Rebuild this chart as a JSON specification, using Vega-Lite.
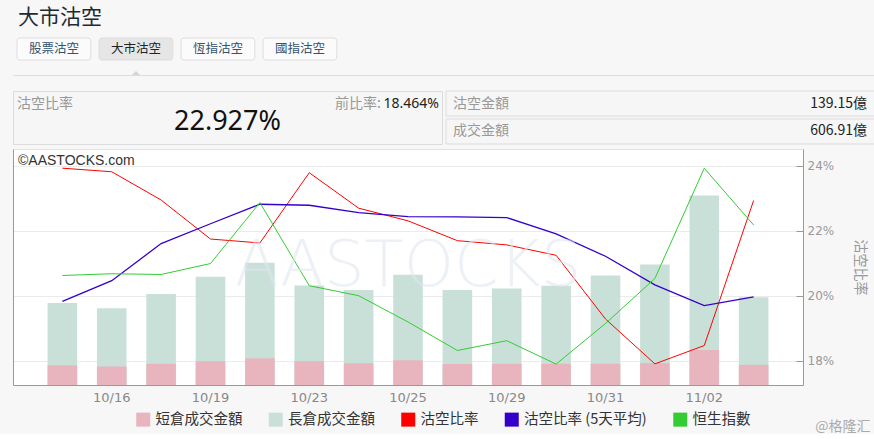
{
  "$schema": "https://vega.github.io/schema/vega-lite/v6.json",
  "background": "#f7f7f7",
  "padding": {"left": 12, "top": 6, "right": 0, "bottom": 0},
  "title": {"text": "@格隆汇", "orient": "bottom", "anchor": "end", "fontSize": 14, "color": "#aaaaaa", "fontWeight": "normal", "offset": -8, "dx": -7},
  "datasets": {
    "buttons": [
      {"按鈕": "股票沽空", "狀態": "normal"},
      {"按鈕": "大市沽空", "狀態": "selected"},
      {"按鈕": "恆指沽空", "狀態": "normal"},
      {"按鈕": "國指沽空", "狀態": "normal"}
    ],
    "ratioBox": [
      {"項目": "沽空比率", "數值": "22.927%", "前比率": "18.464%"}
    ],
    "amountBox": [
      {"項目": "沽空金額", "數值": "139.15億"},
      {"項目": "成交金額", "數值": "606.91億"}
    ],
    "days": [
      {"date": "10/15", "total": 567, "short": 136, "ratio": 23.92, "avg5": 19.82, "hsi": 25445},
      {"date": "10/16", "total": 530, "short": 128, "ratio": 23.81, "avg5": 20.46, "hsi": 25462},
      {"date": "10/18", "total": 629, "short": 146, "ratio": 22.94, "avg5": 21.60, "hsi": 25455},
      {"date": "10/19", "total": 747, "short": 164, "ratio": 21.74, "avg5": 22.21, "hsi": 25561},
      {"date": "10/22", "total": 844, "short": 184, "ratio": 21.62, "avg5": 22.81, "hsi": 26153},
      {"date": "10/23", "total": 687, "short": 165, "ratio": 23.78, "avg5": 22.78, "hsi": 25346},
      {"date": "10/24", "total": 657, "short": 150, "ratio": 22.69, "avg5": 22.55, "hsi": 25249},
      {"date": "10/25", "total": 761, "short": 171, "ratio": 22.30, "avg5": 22.43, "hsi": 24994},
      {"date": "10/26", "total": 657, "short": 145, "ratio": 21.69, "avg5": 22.42, "hsi": 24717},
      {"date": "10/29", "total": 666, "short": 146, "ratio": 21.56, "avg5": 22.40, "hsi": 24812},
      {"date": "10/30", "total": 685, "short": 147, "ratio": 21.24, "avg5": 21.90, "hsi": 24585},
      {"date": "10/31", "total": 756, "short": 147, "ratio": 19.28, "avg5": 21.21, "hsi": 24979},
      {"date": "11/01", "total": 832, "short": 151, "ratio": 17.90, "avg5": 20.33, "hsi": 25416},
      {"date": "11/02", "total": 1309, "short": 242, "ratio": 18.464, "avg5": 19.69, "hsi": 26486},
      {"date": "11/05", "total": 606.91, "short": 139.15, "ratio": 22.927, "avg5": 19.96, "hsi": 25935}
    ],
    "mark": [{"watermark": "AASTOCKS"}]
  },
  "spacing": 3,
  "resolve": {"scale": {"color": "independent", "fill": "independent"}, "legend": {"color": "independent", "fill": "independent"}},
  "vconcat": [
    {
      "spacing": 15,
      "resolve": {"scale": {"color": "independent", "fill": "independent"}},
      "vconcat": [
        {
          "width": 862,
          "height": 22,
          "title": {"text": "大市沽空", "anchor": "start", "fontSize": 21, "color": "#1f2a33", "fontWeight": "normal", "offset": 10, "dx": 5},
          "data": {"name": "buttons"},
          "layer": [
            {
              "mark": {"type": "bar", "cornerRadius": 3, "stroke": "#dddddd", "strokeWidth": 1},
              "encoding": {
                "x": {"field": "按鈕", "type": "nominal", "sort": null,
                      "scale": {"domain": ["股票沽空", "大市沽空", "恆指沽空", "國指沽空", " 1", " 2", " 3", " 4", " 5", " 6"], "paddingInner": 0.1, "paddingOuter": 0.305, "align": 0.08},
                      "axis": {"orient": "bottom", "offset": 15, "labels": false, "ticks": false, "title": null, "domainColor": "#dddddd", "grid": false}},
                "fill": {"field": "狀態", "type": "nominal", "scale": {"domain": ["selected", "normal"], "range": ["#e6e6e6", "#fbfbfb"]}, "legend": null}
              }
            },
            {
              "mark": {"type": "text", "fontSize": 12.5},
              "encoding": {
                "x": {"field": "按鈕", "type": "nominal", "sort": null},
                "text": {"field": "按鈕"},
                "color": {"field": "狀態", "type": "nominal", "scale": {"domain": ["selected", "normal"], "range": ["#222222", "#35536d"]}, "legend": null}
              }
            },
            {
              "transform": [{"filter": "datum['狀態'] === 'selected'"}],
              "mark": {"type": "point", "shape": "M-1,0L0,-1L1,0Z", "size": 64, "filled": true, "fill": "#d4d4d4", "strokeWidth": 0, "opacity": 1, "yOffset": 26},
              "encoding": {
                "x": {"field": "按鈕", "type": "nominal", "sort": null}
              }
            }
          ]
        },
        {
          "spacing": 2,
          "hconcat": [
            {
              "width": 429,
              "height": 53,
              "view": {"fill": "#f6f6f6", "stroke": "#dcdcdc"},
              "data": {"name": "ratioBox"},
              "layer": [
                {
                  "mark": {"type": "text", "align": "left", "dx": 4, "dy": -13.5, "fontSize": 14, "color": "#999999"},
                  "encoding": {
                    "x": {"datum": "left", "type": "nominal", "scale": {"type": "point", "domain": ["left", "right"], "padding": 0}, "axis": null},
                    "text": {"field": "項目"}
                  }
                },
                {
                  "mark": {"type": "text", "align": "right", "dx": -61, "dy": -13.5, "fontSize": 14, "color": "#999999", "text": "前比率:"},
                  "encoding": {
                    "x": {"datum": "right", "type": "nominal"}
                  }
                },
                {
                  "mark": {"type": "text", "align": "right", "dx": -3, "dy": -13.5, "fontSize": 14, "color": "#222222", "font": "Noto Sans"},
                  "encoding": {
                    "x": {"datum": "right", "type": "nominal"},
                    "text": {"field": "前比率"}
                  }
                },
                {
                  "mark": {"type": "text", "align": "center", "dy": 4.5, "fontSize": 27, "color": "#111111", "font": "Noto Sans"},
                  "encoding": {
                    "text": {"field": "數值"}
                  }
                }
              ]
            },
            {
              "width": 431,
              "height": 53,
              "data": {"name": "amountBox"},
              "layer": [
                {
                  "mark": {"type": "bar", "fill": "#f6f6f6", "stroke": "#dcdcdc", "strokeWidth": 1},
                  "encoding": {
                    "y": {"field": "項目", "type": "nominal", "sort": null, "scale": {"paddingInner": 0.107, "paddingOuter": 0}, "axis": null}
                  }
                },
                {
                  "mark": {"type": "text", "align": "left", "dx": 7, "fontSize": 14, "color": "#999999"},
                  "encoding": {
                    "y": {"field": "項目", "type": "nominal", "sort": null},
                    "x": {"datum": "left", "type": "nominal", "scale": {"type": "point", "domain": ["left", "right"], "padding": 0}, "axis": null},
                    "text": {"field": "項目"}
                  }
                },
                {
                  "mark": {"type": "text", "align": "right", "dx": -10, "fontSize": 14, "color": "#222222"},
                  "encoding": {
                    "y": {"field": "項目", "type": "nominal", "sort": null},
                    "x": {"datum": "right", "type": "nominal"},
                    "text": {"field": "數值"}
                  }
                }
              ]
            }
          ]
        }
      ]
    },
    {
      "width": 790,
      "height": 236,
      "view": {"fill": "#ffffff", "stroke": "#e2e2e2"},
      "title": {"text": "©AASTOCKS.com", "orient": "top", "anchor": "start", "frame": "group", "offset": -19, "dx": 5, "fontSize": 14, "color": "#333333", "fontWeight": "normal", "font": "Liberation Sans"},
      "data": {"name": "days"},
      "layer": [
        {
          "mark": {"type": "bar"},
          "encoding": {
            "x": {"field": "date", "type": "ordinal", "sort": null,
                  "scale": {"paddingInner": 0.4, "paddingOuter": 0.7},
                  "axis": {"values": ["10/16", "10/19", "10/23", "10/25", "10/29", "10/31", "11/02"], "ticks": false, "labelAngle": 0, "labelColor": "#888888", "labelFontSize": 13, "labelFont": "DejaVu Sans", "labelPadding": 6, "domainColor": "#999999", "title": null, "grid": false}},
            "y": {"field": "total", "type": "quantitative", "scale": {"domain": [0, 1630], "nice": false},
                  "axis": {"orient": "left", "labels": false, "ticks": false, "grid": false, "title": null, "domainColor": "#999999"}},
            "color": {"datum": "長倉成交金額", "type": "nominal",
                      "scale": {"domain": ["短倉成交金額", "長倉成交金額", "沽空比率", "沽空比率 (5天平均)", "恒生指數"], "range": ["#e8b5be", "#c9e0d8", "#ff0000", "#3300cc", "#33cc33"]},
                      "legend": {"orient": "none", "legendX": 123, "legendY": 263, "direction": "horizontal", "title": null, "symbolType": "square", "symbolSize": 196, "symbolStrokeWidth": 0, "labelFontSize": 14.5, "labelColor": "#333333", "labelOffset": 5, "columnPadding": 25.5, "padding": 0, "labelLimit": 300}}
          }
        },
        {
          "mark": {"type": "bar"},
          "encoding": {
            "x": {"field": "date", "type": "ordinal", "sort": null},
            "y": {"field": "short", "type": "quantitative", "scale": {"domain": [0, 1630], "nice": false}, "axis": null},
            "color": {"datum": "短倉成交金額", "type": "nominal"}
          }
        },
        {
          "mark": {"type": "line", "color": "#ff0000", "strokeWidth": 1},
          "encoding": {
            "x": {"field": "date", "type": "ordinal", "sort": null, "bandPosition": 0.5},
            "y": {"field": "ratio", "type": "quantitative", "scale": {"domain": [17.25, 24.51], "zero": false, "nice": false},
                  "axis": {"orient": "right", "values": [18, 20, 22, 24], "labelExpr": "datum.value + '%'", "grid": true, "gridColor": "#ebebeb", "tickSize": -7, "tickColor": "#999999", "domainColor": "#999999", "labelColor": "#999999", "labelFontSize": 12, "labelFont": "DejaVu Sans", "labelPadding": 11, "title": "沽空比率", "titleColor": "#999999", "titleFontSize": 14, "titleFontWeight": "normal", "titlePadding": 19}}
          }
        },
        {
          "mark": {"type": "line", "color": "#3300cc", "strokeWidth": 1.3},
          "encoding": {
            "x": {"field": "date", "type": "ordinal", "sort": null, "bandPosition": 0.5},
            "y": {"field": "avg5", "type": "quantitative", "scale": {"domain": [17.25, 24.51], "zero": false, "nice": false}, "axis": null}
          }
        },
        {
          "mark": {"type": "line", "color": "#33cc33", "strokeWidth": 1},
          "encoding": {
            "x": {"field": "date", "type": "ordinal", "sort": null, "bandPosition": 0.5},
            "y": {"field": "hsi", "type": "quantitative", "scale": {"domain": [24382, 26673], "zero": false, "nice": false}, "axis": null}
          }
        },
        {
          "data": {"name": "mark"},
          "mark": {"type": "text", "fontSize": 64, "font": "DejaVu Sans", "fontWeight": 200, "color": "#dfe7ee", "opacity": 0.55, "align": "center", "baseline": "middle"},
          "encoding": {
            "text": {"field": "watermark"}
          }
        }
      ],
      "resolve": {"scale": {"y": "independent"}, "axis": {"y": "independent"}}
    }
  ],
  "config": {
    "font": "Noto Sans CJK TC",
    "view": {"stroke": null},
    "title": {"fontWeight": "normal"}
  }
}
